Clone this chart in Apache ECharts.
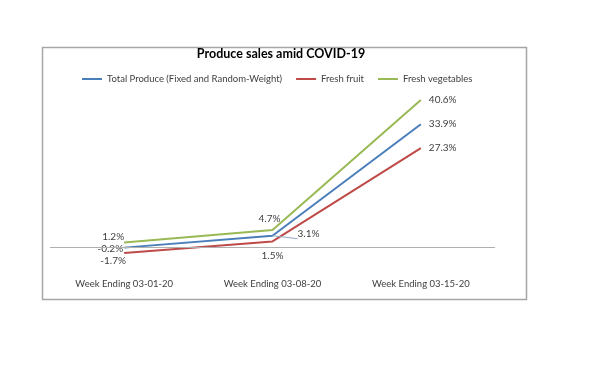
<!DOCTYPE html>
<html><head><meta charset="utf-8">
<script src="https://cdn.jsdelivr.net/npm/echarts@6/dist/echarts.min.js"></script>
<style>html,body{margin:0;padding:0;background:#fff}#c{width:600px;height:374px}</style>
</head><body><div id="c"></div>
<script>
const categories = ['Week Ending 03-01-20', 'Week Ending 03-08-20', 'Week Ending 03-15-20'];
const seriesNames = ['Total Produce (Fixed and Random-Weight)', 'Fresh fruit', 'Fresh vegetables'];
const totalProduce = [-0.2, 3.1, 33.9];
const freshFruit = [-1.7, 1.5, 27.3];
const freshVegetables = [1.2, 4.7, 40.6];
const titleText = 'Produce sales amid COVID-19';

const FONT = 'Lato, "Open Sans", sans-serif';
const labelColor = '#404040';
const fmt = p => p.value.toFixed(1) + '%';

function pts(values, positions, lines) {
  return values.map((v, i) => {
    const d = { value: v, label: positions[i] };
    if (lines && lines[i]) d.labelLine = lines[i];
    return d;
  });
}
const common = {
  type: 'line', symbol: 'circle', symbolSize: 0, showSymbol: true,
  label: { show: true, formatter: fmt, fontFamily: FONT, fontSize: 10, color: labelColor },
  labelLine: { show: false }
};

const chart = echarts.init(document.getElementById('c'), null, { renderer: 'canvas' });
chart.setOption({
  backgroundColor: '#fff',
  animation: false,
  graphic: [{
    type: 'rect', left: 40, top: 45, shape: { width: 484, height: 252 },
    style: { fill: 'none', stroke: '#a6a6a6', lineWidth: 1.5 }, silent: true, z: -1
  }],
  title: {
    text: titleText, left: 281, textAlign: 'center', top: 47, padding: 0,
    textStyle: { fontFamily: FONT, fontSize: 12.5, fontWeight: 'bold', color: '#000' }
  },
  legend: {
    top: 74, left: 82, padding: 0, itemWidth: 20, itemHeight: 2, itemGap: 14, icon: 'rect',
    textStyle: { fontFamily: FONT, fontSize: 9.5, color: '#404040' },
    data: seriesNames
  },
  grid: { left: 50, right: 105, top: 84, bottom: 109 },
  xAxis: {
    type: 'category', data: categories, boundaryGap: true,
    axisLine: { show: false }, axisTick: { show: false },
    axisLabel: { fontFamily: FONT, fontSize: 9.5, color: '#404040', margin: 14 }
  },
  yAxis: { type: 'value', min: -5, max: 45, show: false, splitLine: { show: false } },
  series: [
    Object.assign({}, common, {
      name: seriesNames[0], data: pts(totalProduce, [
        { position: 'left', distance: 3, offset: [2, 1] },
        { position: 'right', offset: [20, -2], distance: 5 },
        { position: 'right', distance: 8 }
      ], [null, { show: true, lineStyle: { color: '#8fa8c8', width: 1 } }, null]),
      lineStyle: { width: 2, color: '#4a7ebb' }, itemStyle: { color: '#4a7ebb' },
      markLine: {
        silent: true, symbol: 'none', label: { show: false },
        lineStyle: { color: '#b0b0b0', width: 1, type: 'solid' },
        data: [{ yAxis: 0 }]
      },
      z: 3
    }),
    Object.assign({}, common, {
      name: seriesNames[1], data: pts(freshFruit, [
        { position: 'bottom', offset: [-11, 0], distance: 3 },
        { position: 'bottom', distance: 9 },
        { position: 'right', distance: 8 }
      ]),
      lineStyle: { width: 2, color: '#be4b48' }, itemStyle: { color: '#be4b48' },
      z: 2
    }),
    Object.assign({}, common, {
      name: seriesNames[2], data: pts(freshVegetables, [
        { position: 'top', offset: [-11, 0], distance: 1 },
        { position: 'top', offset: [-3, 0], distance: 6 },
        { position: 'right', distance: 8 }
      ]),
      lineStyle: { width: 2, color: '#98b954' }, itemStyle: { color: '#98b954' },
      z: 4
    })
  ]
});
</script></body></html>
